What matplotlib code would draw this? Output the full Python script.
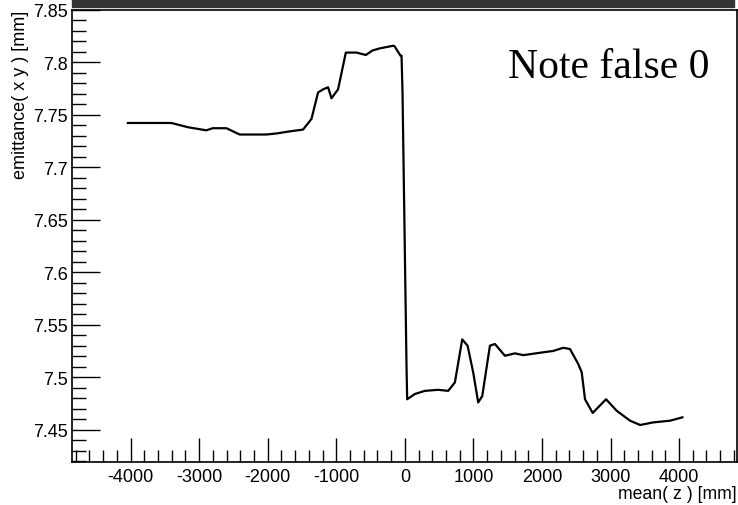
import matplotlib
matplotlib.use("Agg")
import matplotlib.pyplot as plt
from matplotlib.patches import Rectangle
from matplotlib.ticker import MultipleLocator, FuncFormatter

# mean(z) [mm] and emittance [mm]
z = [-4040, -3406, -3168, -2895, -2803, -2603, -2409, -2020, -1873, -1679,
     -1485, -1362, -1266, -1193, -1120, -1070, -974, -861, -705, -569,
     -472, -365, -171, -150, -63, -48, -34, 25, 34,
     146, 292, 486, 632, 730, 837, 915, 997, 1070, 1129,
     1241, 1314, 1460, 1606, 1727, 2019, 2165, 2311, 2409, 2530,
     2580, 2628, 2740, 2935, 3091, 3285, 3431, 3625, 3869, 4049]
emit = [7.742, 7.742, 7.738, 7.735, 7.737, 7.737, 7.731, 7.731, 7.732, 7.734,
        7.7357, 7.7458, 7.771, 7.774, 7.776, 7.7655, 7.774, 7.809, 7.809, 7.8067,
        7.811, 7.813, 7.8155, 7.815, 7.806, 7.806, 7.771, 7.508, 7.479,
        7.484, 7.487, 7.488, 7.487, 7.495, 7.536, 7.530, 7.5046, 7.476, 7.482,
        7.530, 7.5316, 7.5204, 7.5227, 7.521, 7.5237, 7.525, 7.528, 7.5268, 7.5125,
        7.5046, 7.479, 7.466, 7.479, 7.468, 7.4586, 7.4545, 7.457, 7.4586, 7.4618]

note = "Note false 0"

plt.rcParams['font.family'] = ['Liberation Sans', 'DejaVu Sans']

fig = plt.figure(figsize=(7.38, 5.06), dpi=100)
ax = fig.add_axes([72 / 738, 1 - 463.3 / 506, 665 / 738, 452.8 / 506])

ax.plot(z, emit, color='black', lw=1.6)

ax.set_xlim(-4855, 4845)
ax.set_ylim(7.419, 7.85)

ax.xaxis.set_major_locator(MultipleLocator(1000))
ax.xaxis.set_minor_locator(MultipleLocator(200))
ax.yaxis.set_major_locator(MultipleLocator(0.05))
ax.yaxis.set_minor_locator(MultipleLocator(0.01))
ax.yaxis.set_major_formatter(FuncFormatter(lambda v, p: "{:g}".format(round(v, 2))))
ax.xaxis.set_major_formatter(FuncFormatter(lambda v, p: "{:g}".format(v)))

ax.tick_params(axis='both', which='both', direction='in', top=False, right=False,
               labelsize=13, width=1)
ax.tick_params(axis='y', which='major', length=20, pad=3)
ax.tick_params(axis='y', which='minor', length=10)
ax.tick_params(axis='x', which='major', length=17, pad=4)
ax.tick_params(axis='x', which='minor', length=9)

for s in ax.spines.values():
    s.set_linewidth(1.2)

ax.set_xlabel("mean( z ) [mm]", fontsize=12.7, loc='right', labelpad=0)
ax.set_ylabel("emittance( x y ) [mm]", fontsize=13, loc='top', labelpad=3)

ax.text(0.959, 0.873, note, transform=ax.transAxes, ha='right', va='center',
        fontsize=30, family='Liberation Serif')

fig.patches.append(Rectangle((72 / 738, 1 - 8.3 / 506), 662 / 738, 8.3 / 506,
                             transform=fig.transFigure, color='#333333', zorder=0))

fig.savefig("out.png", dpi=100)
